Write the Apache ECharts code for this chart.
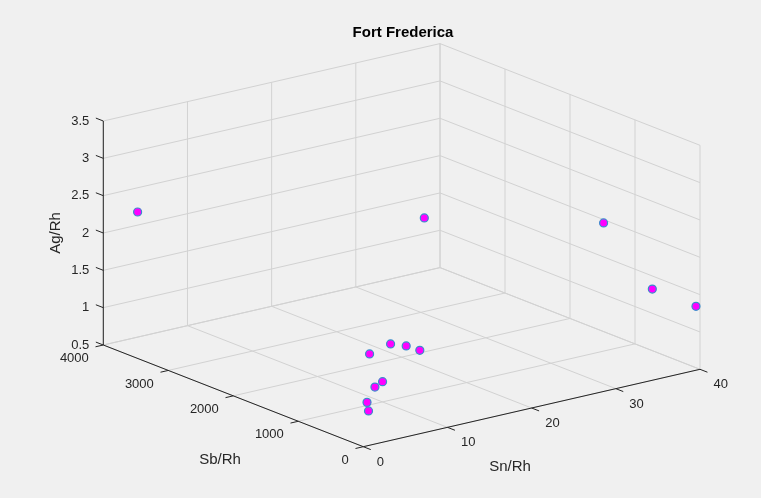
<!DOCTYPE html>
<html><head><meta charset="utf-8">
<script src="https://cdn.jsdelivr.net/npm/echarts@6/dist/echarts.min.js"></script>
<style>html,body{margin:0;padding:0;background:#f0f0f0}#c{width:761px;height:498px}</style>
</head><body><div id="c"></div>
<script>
// ---- data ----
const chartTitle = 'Fort Frederica';
const xName = 'Sn/Rh', yName = 'Sb/Rh', zName = 'Ag/Rh';
const xTicks = [0, 10, 20, 30, 40];
const yTicks = [0, 1000, 2000, 3000, 4000];
const zTicks = [0.5, 1, 1.5, 2, 2.5, 3, 3.5];
const snRh = [2.3, 26.9, 36.5, 37.5, 39.6, 12.5, 16.7, 18.2, 19.1, 9.6, 8.0, 5.9, 5.8];
const sbRh = [3770, 2545, 1030, 410, 10, 1522, 1743, 1697, 1604, 947, 857, 707, 671];
const agRh = [2.3, 2.0, 2.2, 1.5, 1.35, 0.9, 0.85, 0.8, 0.75, 0.8, 0.8, 0.7, 0.6];

// ---- projection (layout) ----
const FONT = '"Liberation Sans", Arial, Helvetica, sans-serif';
const AX = '#262626', GRID = '#d2d2d2';
const O = [363.3, 446.7], EX = [336.7, -77.4], EY = [-260, -101.7], EZ = [0, -224];
const xr = [xTicks[0], xTicks[xTicks.length - 1]];
const yr = [yTicks[0], yTicks[yTicks.length - 1]];
const zr = [zTicks[0], zTicks[zTicks.length - 1]];
function P(x, y, z) {
  const a = (x - xr[0]) / (xr[1] - xr[0]);
  const b = (y - yr[0]) / (yr[1] - yr[0]);
  const c = (z - zr[0]) / (zr[1] - zr[0]);
  return [O[0] + a * EX[0] + b * EY[0] + c * EZ[0], O[1] + a * EX[1] + b * EY[1] + c * EZ[1]];
}
function line(p, q, color, w) {
  return { type: 'line', shape: { x1: p[0], y1: p[1], x2: q[0], y2: q[1] }, style: { stroke: color, lineWidth: w || 1 } };
}
function txt(s, x, y, align, valign, size, extra) {
  return Object.assign({ type: 'text', x: x, y: y, style: { text: s, x: 0, y: 0, fill: AX, font: size + 'px ' + FONT,
    align: align, textAlign: align, verticalAlign: valign, textVerticalAlign: valign } }, extra || {});
}
function norm(v) { const l = Math.hypot(v[0], v[1]); return [v[0] / l, v[1] / l]; }

function renderBox() {
  const ch = [];
  // floor grid
  xTicks.forEach(x => ch.push(line(P(x, yr[0], zr[0]), P(x, yr[1], zr[0]), GRID)));
  yTicks.forEach(y => ch.push(line(P(xr[0], y, zr[0]), P(xr[1], y, zr[0]), GRID)));
  // back-left wall (y = max)
  xTicks.forEach(x => ch.push(line(P(x, yr[1], zr[0]), P(x, yr[1], zr[1]), GRID)));
  zTicks.forEach(z => ch.push(line(P(xr[0], yr[1], z), P(xr[1], yr[1], z), GRID)));
  // back-right wall (x = max)
  yTicks.forEach(y => ch.push(line(P(xr[1], y, zr[0]), P(xr[1], y, zr[1]), GRID)));
  zTicks.forEach(z => ch.push(line(P(xr[1], yr[0], z), P(xr[1], yr[1], z), GRID)));
  // axes
  ch.push(line(P(xr[0], yr[0], zr[0]), P(xr[1], yr[0], zr[0]), AX));
  ch.push(line(P(xr[0], yr[0], zr[0]), P(xr[0], yr[1], zr[0]), AX));
  ch.push(line(P(xr[0], yr[1], zr[0]), P(xr[0], yr[1], zr[1]), AX));
  const TL = 8;
  const dx = norm([-EX[0], -EX[1]]), dy = norm([-EY[0], -EY[1]]), dz = norm([EY[0], EY[1]]);
  xTicks.forEach(x => {
    const p = P(x, yr[0], zr[0]);
    ch.push(line(p, [p[0] + dy[0] * TL, p[1] + dy[1] * TL], AX));
    ch.push(txt(String(x), p[0] + 13.5, p[1] + 15.3, 'left', 'middle', 13));
  });
  yTicks.forEach(y => {
    const p = P(xr[0], y, zr[0]);
    ch.push(line(p, [p[0] + dx[0] * TL, p[1] + dx[1] * TL], AX));
    ch.push(txt(String(y), p[0] - 14.5, p[1] + 13.5, 'right', 'middle', 13));
  });
  zTicks.forEach(z => {
    const p = P(xr[0], yr[1], z);
    ch.push(line(p, [p[0] + dz[0] * TL, p[1] + dz[1] * TL], AX));
    ch.push(txt(String(z), p[0] - 14, p[1], 'right', 'middle', 13));
  });
  ch.push(txt(xName, 510, 467, 'center', 'middle', 15));
  ch.push(txt(yName, 220, 460, 'center', 'middle', 15));
  ch.push(txt(zName, 56, 233, 'center', 'middle', 15, { rotation: Math.PI / 2 }));
  return { type: 'group', children: ch };
}

const pts = snRh.map((v, i) => [v, sbRh[i], agRh[i]]);
const chart = echarts.init(document.getElementById('c'), null, { renderer: 'canvas' });
chart.setOption({
  backgroundColor: '#f0f0f0',
  animation: false,
  title: { text: chartTitle, left: 403, top: 24, textAlign: 'center', padding: 0,
    textStyle: { fontFamily: FONT, fontSize: 15, fontWeight: 'bold', color: '#000', lineHeight: 17 } },
  series: [
    { type: 'custom', coordinateSystem: 'none', silent: true, data: [[0]], renderItem: renderBox },
    { type: 'custom', coordinateSystem: 'none', silent: true, data: pts,
      renderItem: function (params, api) {
        const p = P(api.value(0), api.value(1), api.value(2));
        return { type: 'circle', shape: { cx: p[0], cy: p[1], r: 4 },
          style: { fill: '#ff00ff', stroke: '#3a8ccc', lineWidth: 1.2 } };
      } }
  ]
});
</script></body></html>
